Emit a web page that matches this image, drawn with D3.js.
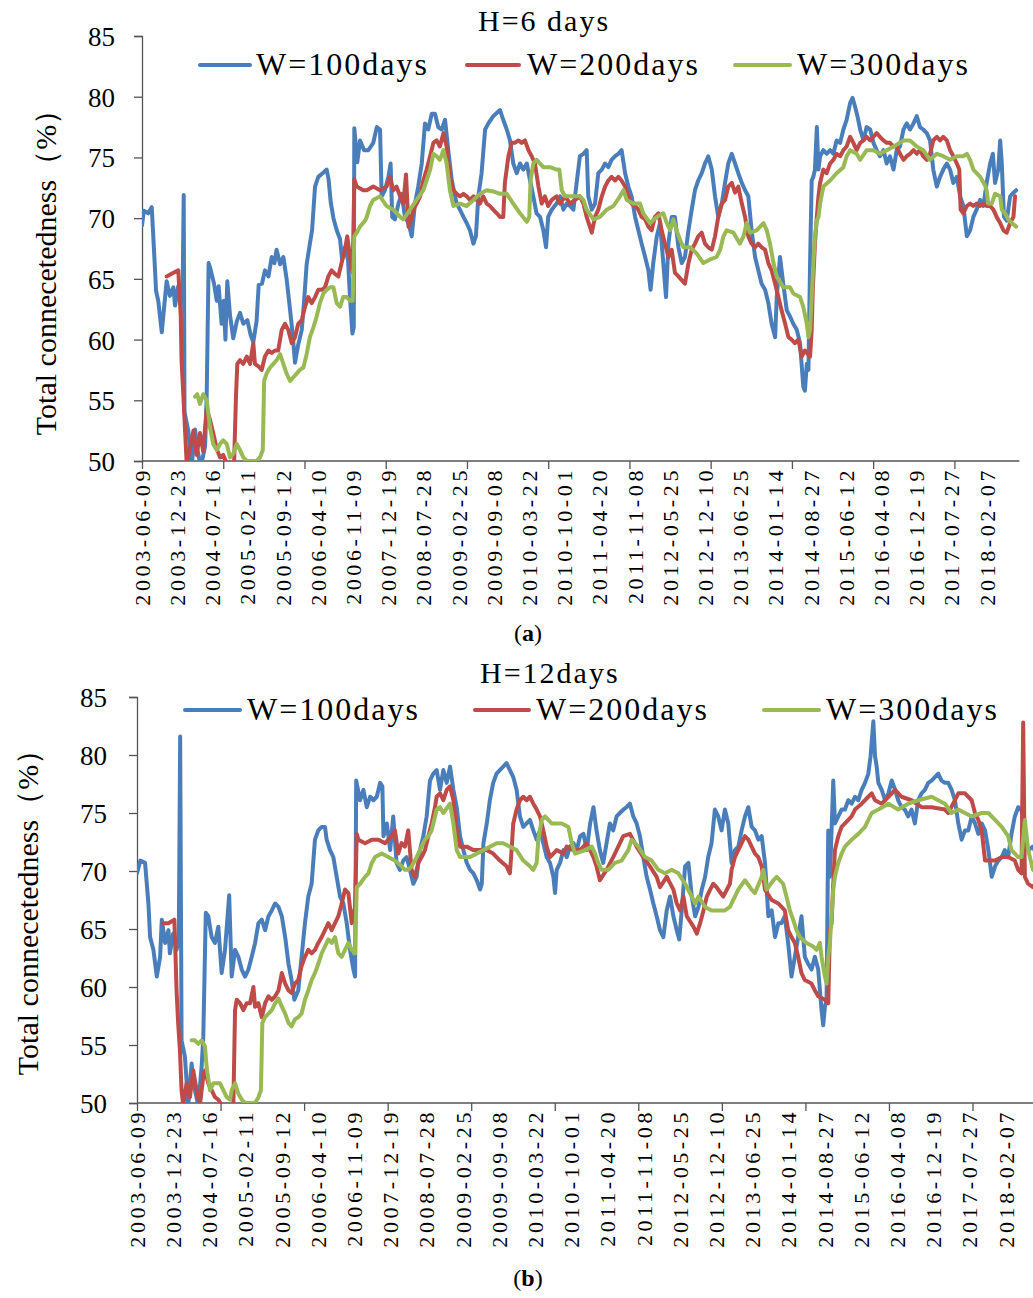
<!DOCTYPE html>
<html>
<head>
<meta charset="utf-8">
<script src="https://cdnjs.cloudflare.com/ajax/libs/d3/7.8.5/d3.min.js"></script>
<style>
  body { margin: 0; background: #fff; }
  svg text { font-family: "Liberation Serif", "Times New Roman", serif; fill: #000; }
</style>
</head>
<body>
<script>
// x values are trading-day indices along the category axis
var dateLabels = ["2003-06-09", "2003-12-23", "2004-07-16", "2005-02-11", "2005-09-12",
  "2006-04-10", "2006-11-09", "2007-12-19", "2008-07-28", "2009-02-25", "2009-09-08",
  "2010-03-22", "2010-10-01", "2011-04-20", "2011-11-08", "2012-05-25", "2012-12-10",
  "2013-06-25", "2014-01-14", "2014-08-27", "2015-06-12", "2016-04-08", "2016-12-19",
  "2017-07-27", "2018-02-07"];
var seriesNames = ["W=100days", "W=200days", "W=300days"];
var yTicks = [50, 55, 60, 65, 70, 75, 80, 85];

// panel (a): H=6 days
var w100H6 = [[0,69.4],[7,70.6],[23,70.4],[36,70.9],[44,67.5],[52,64],[60,63.2],[73,60.6],[81,62.5],[91,64.8],[103,63.6],[116,64.3],[122,62.8],[134,64.4],[143,63.2],[150,64],[154,71.9],[157,54],[171,52.5],[183,49.5],[196,52.6],[204,51],[217,49.5],[233,51.2],[239,55.5],[246,66.3],[253,65.8],[266,64.6],[276,63.2],[283,64.4],[294,61.3],[302,63.2],[308,60],[315,64.8],[325,62],[337,60.1],[350,61.5],[362,62.2],[374,61.3],[389,61.6],[401,60.4],[411,59.8],[423,61.5],[431,64.5],[443,64.6],[454,65.7],[467,65.2],[479,66.8],[489,66.3],[497,67.4],[510,66.2],[522,66.8],[534,65],[547,62.4],[556,60.5],[565,58.1],[577,59.6],[590,60.8],[598,63],[608,66.2],[620,67.9],[628,69],[639,72.6],[651,73.4],[667,73.7],[682,74],[689,73.2],[697,71.3],[707,70],[719,69],[731,68.3],[739,66.6],[750,67.6],[761,66.5],[768,63.5],[777,60.5],[782,61],[784,77.4],[795,74.6],[805,76.4],[820,75.6],[836,75.6],[854,76.2],[867,77.5],[879,77.3],[885,71.8],[897,72.3],[910,73.4],[918,74.5],[924,70.1],[934,69.9],[947,71.2],[959,72],[971,70.1],[984,69.6],[996,68.5],[1008,71.2],[1020,72.6],[1033,74.5],[1045,77.8],[1057,77.3],[1070,78.6],[1082,78.6],[1094,77.5],[1107,77.3],[1119,78.1],[1131,75.6],[1144,73.1],[1162,71.2],[1174,70.7],[1187,70.1],[1199,69.6],[1211,69],[1224,67.9],[1233,68.5],[1242,71.8],[1254,73.7],[1267,77.3],[1279,77.8],[1297,78.4],[1322,78.9],[1334,78.1],[1347,77.3],[1359,76.4],[1371,74.5],[1384,73.7],[1396,74.5],[1408,74],[1421,74.5],[1433,73.1],[1445,71.8],[1457,70.4],[1470,70.1],[1482,69],[1492,67.6],[1500,70.1],[1513,70.7],[1531,71.2],[1544,71.8],[1556,70.7],[1568,71.2],[1581,71],[1593,70.7],[1605,72.9],[1617,75.1],[1630,75.3],[1642,75.6],[1648,71.8],[1661,70.7],[1673,71.2],[1685,73.7],[1698,74],[1710,74.5],[1722,74.2],[1734,74.8],[1747,75.1],[1759,75.3],[1771,75.6],[1784,73.7],[1796,72.6],[1808,71.8],[1821,70.1],[1833,69],[1845,67.9],[1858,66.8],[1870,65.7],[1878,64.1],[1888,66.3],[1901,68.5],[1913,69.6],[1925,66.3],[1935,63.5],[1944,67.9],[1956,70.1],[1968,70.1],[1981,67.6],[1993,66.3],[2005,66.8],[2018,69],[2030,70.7],[2042,72.3],[2054,73.1],[2067,73.7],[2079,74.5],[2091,75.1],[2104,74],[2116,71.8],[2128,70.1],[2141,71.2],[2153,72.9],[2165,74.5],[2178,75.3],[2190,74.5],[2202,73.7],[2215,72.9],[2227,72.3],[2239,71.8],[2251,69],[2264,66.8],[2276,65.7],[2288,64.6],[2301,64.1],[2313,63],[2325,61.3],[2338,60.2],[2344,63.5],[2356,66.8],[2368,64.6],[2381,62.4],[2393,61.9],[2405,61.3],[2418,60.8],[2430,59.7],[2442,56.1],[2448,55.8],[2455,58],[2461,57.5],[2467,66.3],[2473,73.1],[2479,73.4],[2485,74],[2492,77.5],[2498,74],[2504,75.1],[2516,75.6],[2528,75.3],[2541,75.6],[2553,75.3],[2565,76.4],[2578,76.2],[2590,77.3],[2602,78.1],[2615,79.5],[2624,79.9],[2633,79.2],[2642,78.4],[2652,77.3],[2664,76.4],[2676,77.5],[2689,77.3],[2701,76.2],[2713,75.6],[2725,75.1],[2738,75.6],[2750,74.5],[2762,75.1],[2775,74],[2787,75.6],[2799,75.9],[2812,77.3],[2824,77.8],[2836,77.3],[2849,77.8],[2861,78.4],[2873,77.5],[2885,77.3],[2898,77],[2910,76.4],[2922,74],[2935,72.6],[2947,73.4],[2959,74],[2972,74.5],[2984,74],[2996,72.9],[3009,73.4],[3021,71.8],[3033,71],[3046,68.5],[3058,69],[3070,70.1],[3082,70.7],[3095,71.5],[3107,71],[3119,72.9],[3132,74.5],[3142,75.3],[3150,72.9],[3162,74],[3169,76.4],[3175,74.5],[3183,70.1],[3193,69.8],[3206,71.8],[3218,72.1],[3228,72.3]];
var w200H6 = [[91,65.2],[116,65.5],[134,65.7],[138,64],[143,62],[146,58.3],[153,55.3],[159,52.5],[165,49.8],[177,51],[190,52.5],[202,50.5],[214,52.3],[226,50.8],[239,54.3],[251,53.4],[263,52.3],[276,51],[288,50.3],[300,50.5],[313,49.8],[340,49.8],[347,55.3],[352,58],[362,58.3],[374,58],[387,58.6],[399,58],[411,59.7],[417,58],[430,57.8],[442,57.5],[454,58.6],[467,59.1],[479,58.9],[491,59.1],[503,59.1],[516,60.8],[528,61.3],[540,60.8],[553,59.7],[565,60.2],[577,61.3],[590,61.6],[602,62.7],[614,63.5],[627,63],[639,63.5],[651,64.1],[664,64.1],[676,64.3],[688,65.2],[700,65.7],[713,65.4],[725,65.2],[737,66.3],[750,67.5],[758,68.5],[770,66.5],[778,65.5],[784,73.2],[793,72.6],[817,72.3],[830,72.3],[854,72.6],[879,72.3],[903,72.6],[916,73.4],[928,72.3],[940,72.6],[953,71.8],[965,71.2],[975,73.6],[984,69.3],[990,69.6],[1002,70.7],[1014,71.2],[1027,71.8],[1039,73.1],[1051,74],[1064,75.1],[1076,76.2],[1088,76.4],[1100,75.9],[1113,77],[1125,75.9],[1137,73.4],[1150,72.3],[1162,72],[1174,71.8],[1187,72],[1199,71.8],[1211,71.5],[1224,71.8],[1236,71.5],[1248,71.2],[1260,71.8],[1273,71.2],[1285,71],[1297,70.7],[1310,70.4],[1322,70.1],[1334,70.1],[1340,72.9],[1353,75.1],[1365,76.2],[1377,76.2],[1390,76.4],[1402,76.2],[1414,76.4],[1427,75.6],[1439,75.1],[1451,74.5],[1464,72.6],[1476,71.2],[1488,71.8],[1500,71],[1513,71.5],[1531,71.8],[1544,71.2],[1562,71.8],[1581,71.2],[1599,71.5],[1617,71.8],[1630,71.2],[1642,70.1],[1661,68.8],[1673,70.1],[1685,70.7],[1698,71.8],[1710,72.6],[1722,73.1],[1734,73.4],[1747,73.1],[1759,73.4],[1771,73.1],[1784,72.6],[1796,71.8],[1808,71.2],[1821,71],[1833,70.7],[1845,70.1],[1858,69.9],[1870,69.3],[1882,69],[1894,70.1],[1907,70.4],[1919,69],[1931,67.9],[1944,66.8],[1956,67.4],[1968,65.5],[1981,65.2],[1993,64.9],[2005,64.6],[2018,66.3],[2030,67.4],[2042,67.9],[2054,68.5],[2067,68.8],[2079,67.9],[2091,67.6],[2104,67.4],[2116,68.5],[2128,70.1],[2141,71.2],[2153,71.5],[2165,72.6],[2178,72.9],[2190,72.1],[2202,72.6],[2215,71.2],[2227,70.1],[2239,68.5],[2251,67.9],[2264,67.6],[2276,67.9],[2288,67.6],[2301,67.4],[2313,66.3],[2325,65.7],[2338,64.6],[2350,63.5],[2362,62.4],[2375,61.3],[2387,60.2],[2399,60],[2411,59.7],[2424,60],[2436,58.6],[2448,59.1],[2455,58.9],[2467,58.6],[2473,60.8],[2477,64.1],[2485,67.9],[2492,70.1],[2498,71.8],[2504,72.9],[2516,74],[2528,73.7],[2541,74.5],[2553,74.8],[2565,75.3],[2578,75.1],[2590,75.6],[2602,75.9],[2615,76.7],[2627,76.2],[2639,75.6],[2652,76.2],[2664,76.4],[2676,76.7],[2689,76.4],[2701,76.7],[2713,77],[2725,76.7],[2738,76.4],[2750,76.2],[2762,76.2],[2775,75.9],[2787,75.9],[2799,75.3],[2812,74.8],[2824,75.1],[2836,75.3],[2849,75.6],[2861,75.3],[2873,75.6],[2885,75.1],[2898,74.8],[2910,75.3],[2922,76.4],[2935,76.7],[2947,76.4],[2959,76.7],[2972,76.4],[2984,75.6],[2996,75.1],[3009,74.5],[3018,74],[3023,70.7],[3033,70.4],[3046,71],[3058,71.2],[3070,71],[3082,71.2],[3095,71],[3107,71.2],[3119,71],[3132,71],[3144,70.7],[3156,70.1],[3169,69.6],[3181,69],[3193,68.8],[3206,69.6],[3218,70.1],[3224,71.8]];
var w300H6 = [[196,55.3],[204,55.5],[214,54.7],[226,55.5],[239,55],[251,52.8],[263,51.4],[276,50.9],[288,51.4],[300,51.7],[313,51.4],[325,50.3],[337,50.6],[350,51.4],[362,50.9],[374,50.3],[387,50],[423,50],[436,50.3],[446,50.9],[451,56.6],[460,57.2],[473,57.7],[485,58],[497,58.3],[510,58.8],[522,58],[534,57.2],[547,56.6],[559,56.9],[571,57.2],[583,57.5],[596,57.7],[608,58.8],[620,60.2],[633,61],[645,61.9],[657,63],[670,63.8],[682,64.1],[694,64.3],[707,64.3],[719,63],[731,62.7],[743,63.5],[756,63.5],[768,63.2],[778,63.2],[784,68.5],[793,68.8],[805,69.3],[824,69.8],[830,70.1],[842,71],[854,71.5],[879,71.8],[903,71],[928,70.7],[953,70.1],[965,69.9],[990,70.7],[1014,71.5],[1039,72.3],[1051,73.1],[1064,74],[1076,75.3],[1088,75.1],[1100,74.8],[1113,75.6],[1125,74.5],[1137,72.3],[1150,71],[1174,71.2],[1199,71],[1224,71.5],[1248,72],[1273,72.3],[1297,72.2],[1322,72],[1347,72],[1371,71.2],[1396,70.4],[1421,69.7],[1430,70.1],[1435,73.1],[1445,74.5],[1457,74.8],[1482,74.2],[1507,74.2],[1531,74],[1541,74],[1550,72.3],[1562,71.8],[1587,71.8],[1617,71.8],[1630,71.5],[1642,70.7],[1667,69.9],[1691,70.1],[1716,70.7],[1741,71],[1765,71.8],[1778,72.3],[1790,71.5],[1814,71.2],[1839,71.2],[1851,70.4],[1876,69.6],[1901,70.1],[1925,70.4],[1938,69.6],[1950,69],[1962,69.9],[1974,69],[1987,68.2],[1999,67.6],[2024,67.6],[2048,67.1],[2073,66.3],[2098,66.6],[2122,66.8],[2135,67.4],[2147,68.5],[2159,69],[2184,68.8],[2208,67.9],[2221,68.5],[2233,69.6],[2245,68.8],[2270,69],[2295,69.6],[2307,69],[2319,67.9],[2332,66.3],[2344,65.2],[2368,64.3],[2393,64.3],[2405,63.8],[2430,63.5],[2442,62.7],[2455,61.3],[2461,60.2],[2467,60.8],[2473,63.5],[2479,66.3],[2485,68.5],[2492,69.8],[2498,70.1],[2504,71.2],[2516,72.6],[2541,73.1],[2565,73.7],[2590,74.2],[2602,75.1],[2615,75.6],[2639,75.3],[2652,74.8],[2676,75.6],[2701,75.6],[2725,75.3],[2750,75.6],[2775,75.9],[2799,76.2],[2812,76.4],[2836,76.4],[2861,75.9],[2885,75.6],[2910,74.8],[2935,75.3],[2959,75.1],[2984,74.8],[3009,75.1],[3033,75.1],[3046,75.3],[3058,74.8],[3070,74],[3095,73.4],[3113,72.7],[3119,72.3],[3125,71.2],[3138,71.2],[3150,72],[3169,71.8],[3175,70.7],[3187,70.4],[3199,69.9],[3212,69.6],[3228,69.3]];

// panel (b): H=12 days
var w100H12 = [[0,69.8],[12,70.9],[29,70.7],[41,67.2],[47,64.3],[59,63.2],[71,60.9],[83,62.6],[89,65.8],[101,63.8],[113,64.9],[118,62.9],[130,64.6],[142,63.2],[150,64],[155,81.6],[160,55.4],[172,54],[184,49.8],[196,53.4],[208,51.1],[220,49.8],[232,53.1],[238,55.7],[247,66.4],[256,66.1],[268,64.3],[280,63.8],[292,65.2],[304,61.2],[316,63.2],[331,67.9],[340,60.9],[352,63.2],[364,62.6],[376,61.5],[388,60.9],[400,61.5],[412,62.6],[424,63.8],[436,65.5],[448,65.8],[460,64.9],[472,66.1],[484,66.6],[496,67.2],[508,66.9],[520,66.1],[532,64.3],[544,62],[555,60.6],[565,58.9],[579,59.7],[591,62.6],[603,65.5],[615,67.8],[627,68.9],[639,72.7],[651,73.5],[663,73.8],[675,73.8],[681,72.7],[693,71.8],[705,71.2],[717,69.5],[729,67.8],[741,67.2],[753,65.5],[765,63.2],[777,61.5],[783,60.9],[787,77.8],[801,76.1],[813,77],[825,75.5],[837,76.4],[849,76.1],[861,76.4],[873,77.6],[881,77.3],[885,73],[897,74.1],[909,71.8],[920,74.7],[932,70.7],[944,70.1],[956,70.9],[968,71.2],[980,70.1],[992,68.9],[1004,69.5],[1016,71.8],[1028,73],[1040,74.7],[1052,77.8],[1064,78.4],[1076,78.7],[1088,77],[1100,78.7],[1112,77.6],[1124,79],[1136,77],[1148,75.5],[1160,73],[1172,71.8],[1184,70.7],[1196,70.1],[1208,69.8],[1220,69.2],[1232,68.4],[1238,68.9],[1244,72.4],[1256,74.1],[1267,76.1],[1279,77.6],[1291,78.4],[1303,78.7],[1327,79.3],[1339,78.7],[1351,78.1],[1363,77],[1375,74.7],[1387,73.8],[1399,74.1],[1411,74.4],[1423,73.5],[1435,72.7],[1447,73.5],[1459,72.4],[1471,71.2],[1483,70.7],[1495,69.5],[1501,68.1],[1507,70.1],[1519,70.7],[1531,71.8],[1543,71.2],[1555,72.1],[1567,72.4],[1579,71.8],[1591,73],[1603,73.2],[1615,71.8],[1627,74.1],[1639,75.5],[1650,73.5],[1662,71.8],[1674,70.7],[1686,72.4],[1698,74.1],[1710,73.5],[1722,74.7],[1734,75],[1746,75.3],[1758,75.5],[1770,75.8],[1782,74.7],[1794,74.1],[1806,73],[1818,71.2],[1830,69.5],[1842,68.4],[1854,67.2],[1866,66.1],[1878,64.9],[1890,64.3],[1902,66.6],[1914,67.8],[1926,66.1],[1938,64.9],[1947,64.1],[1956,66.6],[1968,70.4],[1980,70.7],[1992,67.8],[2004,66.1],[2016,66.9],[2028,68.4],[2040,69.5],[2051,71.2],[2063,72.4],[2075,75.3],[2087,74.7],[2099,73.5],[2111,75.3],[2123,74.1],[2135,70.7],[2147,71.8],[2159,72.1],[2171,73.5],[2183,74.7],[2195,75.5],[2207,73.8],[2219,73.5],[2231,72.7],[2243,73],[2255,70.7],[2267,66.1],[2279,66.6],[2291,64.3],[2303,65.5],[2314,65.5],[2326,66.1],[2338,63.8],[2350,60.9],[2362,62.6],[2374,64.3],[2386,66.1],[2398,62.6],[2410,62],[2422,61.5],[2434,62.6],[2446,61.5],[2458,58],[2464,56.7],[2470,58.3],[2476,58.9],[2482,73.5],[2488,69.5],[2494,73.5],[2500,77.8],[2506,74.1],[2518,74.7],[2530,75.3],[2542,75.3],[2554,76.1],[2566,75.8],[2578,76.4],[2590,76.1],[2602,77],[2614,77.6],[2626,78.4],[2634,79.9],[2644,82.9],[2650,79.9],[2656,79],[2662,77.6],[2674,77],[2686,76.1],[2698,76.7],[2710,77.8],[2722,77],[2733,76.1],[2745,75.5],[2757,75.3],[2769,74.7],[2781,75.3],[2793,74.1],[2805,76.1],[2817,76.7],[2829,77],[2841,77.6],[2853,77.8],[2865,78.1],[2877,78.4],[2889,77.8],[2901,77.6],[2913,77.6],[2925,77],[2937,76.1],[2949,74.1],[2961,72.7],[2973,73.5],[2985,73.5],[2997,74.7],[3009,74.1],[3021,73.2],[3033,74.1],[3045,73.5],[3057,71.8],[3069,69.5],[3081,70.4],[3093,70.9],[3105,71.2],[3116,71.8],[3128,71.2],[3140,73.2],[3152,74.7],[3164,75.5],[3176,75.3],[3188,72.7],[3200,71.8],[3217,72.1],[3228,71.5]];
var w200H12 = [[94,65.5],[113,65.5],[134,65.8],[137,63.8],[142,59.7],[148,56.8],[154,54.6],[160,51.1],[166,49.8],[178,51.7],[190,50.5],[202,52.8],[214,51.1],[226,49.8],[238,52.3],[244,52.8],[256,51.7],[268,51.1],[280,50.5],[292,50.3],[304,49.8],[346,49.8],[352,58],[358,58.9],[370,58.6],[382,58],[394,58.6],[406,58.6],[418,60],[424,58.3],[436,58.6],[448,57.4],[460,58.6],[472,59.2],[484,58.9],[496,59.2],[508,59.7],[520,61.2],[532,60.3],[544,59.7],[555,59.5],[567,60.3],[579,60.6],[591,61.8],[603,62.6],[615,63.2],[627,62.9],[639,63.2],[651,63.8],[663,64.3],[675,64.9],[687,65.5],[699,64.9],[711,65.5],[723,66.1],[735,67.2],[747,68.4],[759,68.1],[771,65.5],[783,66.9],[789,73.2],[795,72.7],[819,72.4],[843,72.7],[867,72.7],[891,72.4],[914,73],[926,73.5],[938,71.5],[950,72.4],[962,72.1],[974,73.5],[986,70.1],[998,69.5],[1010,70.7],[1022,71.2],[1034,71.8],[1046,73],[1058,74.1],[1070,75.5],[1076,76.4],[1088,76.7],[1100,76.1],[1112,77],[1124,77.3],[1136,76.1],[1148,73.5],[1160,72.1],[1184,72.1],[1208,71.8],[1232,71.8],[1256,71.8],[1279,71.5],[1303,70.9],[1327,70.4],[1339,69.8],[1345,71.8],[1351,74.1],[1363,75.3],[1375,76.1],[1387,76.4],[1399,76.1],[1411,76.4],[1423,75.8],[1435,75.3],[1447,74.7],[1459,73.5],[1471,72.1],[1483,71.2],[1507,71.8],[1531,71.5],[1543,72.1],[1567,71.8],[1591,71.8],[1615,72.4],[1639,71.2],[1650,70.4],[1662,69.2],[1686,70.1],[1710,71.2],[1734,72.4],[1746,73],[1770,73.2],[1794,72.1],[1818,71.2],[1842,70.4],[1866,69.5],[1878,68.6],[1902,69.5],[1926,68.4],[1938,67.2],[1950,66.6],[1962,67.8],[1974,66.1],[1998,65.2],[2010,64.6],[2022,65.5],[2034,66.6],[2046,67.8],[2058,68.4],[2069,68.9],[2081,68.6],[2105,67.8],[2129,68.9],[2135,70.1],[2147,71.2],[2159,71.8],[2171,72.4],[2183,73],[2195,72.7],[2207,72.1],[2219,71.5],[2231,71.2],[2243,70.4],[2255,68.4],[2279,67.5],[2303,67.2],[2326,66.6],[2338,64.9],[2350,64.3],[2362,63.8],[2374,62.6],[2386,61.2],[2398,60.6],[2422,60.3],[2434,59.7],[2446,59.2],[2470,58.9],[2482,58.6],[2488,64.9],[2494,65.5],[2500,68.9],[2506,71.8],[2518,73],[2530,73.8],[2542,74.1],[2566,74.7],[2578,75.3],[2602,75.8],[2626,76.4],[2638,76.7],[2650,76.1],[2674,75.8],[2698,76.4],[2722,77],[2745,76.4],[2781,76.1],[2817,75.5],[2853,75.5],[2901,75.3],[2913,75],[2937,76.1],[2949,76.7],[2973,76.7],[2997,76.1],[3009,75],[3021,74.4],[3033,73.5],[3045,70.9],[3081,70.9],[3105,71.2],[3128,71.2],[3152,70.9],[3164,70.1],[3176,69.8],[3182,82.8],[3188,69.5],[3200,68.9],[3217,68.6],[3228,69]];
var w300H12 = [[196,55.4],[208,55.4],[220,55.1],[232,55.4],[244,54.9],[250,53.1],[262,51.1],[274,51.7],[298,51.7],[310,51.1],[322,50.5],[334,50.3],[340,51.1],[352,51.7],[364,50.8],[376,50.3],[388,50],[424,50],[436,50.5],[445,51.1],[450,56.9],[460,57.4],[472,57.7],[484,58],[496,58.6],[508,59],[520,58.3],[532,57.7],[544,56.9],[555,56.6],[567,57.2],[579,57.4],[591,57.7],[603,58.9],[615,59.7],[627,60.6],[639,61.2],[651,62],[663,62.9],[675,63.5],[687,64.1],[699,63.8],[711,64.3],[723,62.9],[735,62.6],[747,63.2],[759,63.8],[771,63.2],[783,62.9],[789,68.6],[801,68.9],[819,69.5],[831,69.8],[843,70.7],[855,71.2],[879,71.5],[902,71.2],[926,70.9],[950,70.4],[962,70.1],[974,70.1],[986,70.4],[998,70.9],[1010,71.5],[1022,72.1],[1034,72.7],[1046,73],[1058,73.5],[1064,74.1],[1076,75.3],[1088,75.5],[1100,75],[1124,75.8],[1136,74.1],[1148,71.8],[1160,71.2],[1196,71.2],[1244,71.8],[1291,72.4],[1315,72.4],[1363,71.8],[1387,70.9],[1411,70.4],[1423,70.1],[1435,70.7],[1441,72.7],[1453,74.4],[1465,74.7],[1489,74.1],[1525,74.1],[1549,73.8],[1561,72.4],[1573,71.5],[1609,71.8],[1633,72.1],[1645,71.5],[1656,70.7],[1668,70.1],[1692,70.1],[1716,70.7],[1740,70.9],[1764,71.8],[1776,72.7],[1800,72.1],[1824,71.2],[1848,70.9],[1872,70.1],[1896,69.8],[1920,70.1],[1944,69.8],[1968,68.9],[1992,67.8],[2004,67.2],[2016,67.8],[2040,66.9],[2063,66.6],[2087,66.6],[2111,66.6],[2129,66.9],[2135,67.2],[2159,68.4],[2183,69.2],[2207,68.4],[2219,68.1],[2243,69.5],[2249,70.1],[2261,68.4],[2285,69.2],[2297,69.5],[2320,68.9],[2332,67.8],[2344,66.6],[2356,65.8],[2368,64.9],[2380,64.3],[2404,63.8],[2428,63.5],[2440,63.2],[2452,63.8],[2458,62.6],[2470,60.9],[2476,60.3],[2482,62.6],[2488,63.8],[2494,66.1],[2500,68.4],[2506,69.5],[2518,70.7],[2530,71.5],[2542,72.1],[2566,72.7],[2590,73.2],[2614,73.8],[2638,75],[2662,75.3],[2698,75.8],[2733,75.3],[2769,75.8],[2805,76.1],[2853,76.4],[2901,75.8],[2925,75],[2949,75.3],[2997,74.7],[3033,75],[3057,75],[3081,74.4],[3105,73.8],[3128,73],[3140,71.8],[3164,71.2],[3176,71.2],[3188,74.4],[3200,71.8],[3217,70.1],[3228,70]];

var colors = ["#4a7ebb", "#be4b48", "#98b954"];
var nDays = 3240, tickEvery = 300, labelEvery = 130;

var svg = d3.select("body").append("svg")
  .attr("width", 1033)
  .attr("height", 1298)
  .style("display", "block");

svg.append("rect").attr("width", 1033).attr("height", 1298).attr("fill", "#fff");

function drawPanel(p, id) {
  var x = d3.scaleLinear().domain([0, nDays]).range([p.left, p.left + nDays * p.pxPerDay]);
  var y = d3.scaleLinear().domain([50, 85]).range([p.bottom, p.top]);

  var g = svg.append("g");

  g.append("clipPath").attr("id", "clip" + id)
    .append("rect")
    .attr("x", p.left).attr("y", p.top - 40)
    .attr("width", 1100).attr("height", p.bottom - p.top + 40);

  // y axis
  var yAxis = d3.axisLeft(y).tickValues(yTicks).tickSize(8).tickPadding(p.tickPad);
  var ya = g.append("g").attr("transform", "translate(" + p.left + ",0)").call(yAxis);
  ya.attr("font-family", null);
  ya.select(".domain").attr("stroke", "#555").attr("stroke-width", 1.3);
  ya.selectAll(".tick line").attr("stroke", "#555").attr("stroke-width", 1.3);
  ya.selectAll(".tick text")
    .style("font-size", "27px")
    .attr("dy", "0.35em");

  // x axis
  var xAxis = d3.axisBottom(x).tickValues(d3.range(0, nDays, tickEvery)).tickSize(8).tickFormat("");
  var xa = g.append("g").attr("transform", "translate(0," + p.bottom + ")").call(xAxis);
  xa.select(".domain").attr("stroke", "#555").attr("stroke-width", 1.3)
    .attr("d", "M" + p.left + ",0H" + x(nDays));
  xa.selectAll(".tick line").attr("stroke", "#555").attr("stroke-width", 1.3);

  g.selectAll(".xlab")
    .data(dateLabels)
    .enter().append("text")
    .attr("class", "xlab")
    .attr("transform", function(d, i) {
      return "translate(" + x(i * labelEvery) + "," + (p.bottom + 6) + ") rotate(-90)";
    })
    .attr("dy", "0.35em")
    .attr("text-anchor", "end")
    .style("font-size", "22px")
    .style("letter-spacing", "3.6px")
    .text(function(d) { return d; });

  // y axis title
  g.append("text")
    .attr("transform", "translate(" + p.yLabelX + "," + p.yLabelY + ") rotate(-90)")
    .attr("dy", "0.35em")
    .attr("text-anchor", "middle")
    .style("font-size", "30px")
    .text("Total connecetedness（%）");

  // lines
  var line = d3.line()
    .x(function(d) { return x(d[0]); })
    .y(function(d) { return y(d[1]); });

  var plot = g.append("g").attr("clip-path", "url(#clip" + id + ")");
  p.series.forEach(function(s, i) {
    plot.append("path")
      .datum(s)
      .attr("fill", "none")
      .attr("stroke", colors[i])
      .attr("stroke-width", 4)
      .attr("stroke-linejoin", "round")
      .attr("stroke-linecap", "round")
      .attr("d", line);
  });

  // title
  g.append("text")
    .attr("x", p.titleX).attr("y", p.titleY)
    .style("font-size", "30px")
    .style("letter-spacing", "2px")
    .text(p.title);

  // legend
  var leg = g.selectAll(".leg").data(seriesNames).enter().append("g");
  leg.append("line")
    .attr("x1", function(d, i) { return p.legend[i][0]; })
    .attr("x2", function(d, i) { return p.legend[i][1]; })
    .attr("y1", p.legendY).attr("y2", p.legendY)
    .attr("stroke", function(d, i) { return colors[i]; })
    .attr("stroke-width", 4)
    .attr("stroke-linecap", "round");
  leg.append("text")
    .attr("x", function(d, i) { return p.legend[i][2]; })
    .attr("y", p.legendY + 10)
    .style("font-size", "32px")
    .style("letter-spacing", "2px")
    .text(function(d) { return d; });

  // caption
  var cap = g.append("text")
    .attr("x", 528).attr("y", p.captionY)
    .attr("text-anchor", "middle")
    .style("font-size", "24px");
  cap.append("tspan").text("(");
  cap.append("tspan").style("font-weight", "bold").text(p.caption);
  cap.append("tspan").text(")");
}

drawPanel({
  left: 142, pxPerDay: 0.2708, top: 36, bottom: 461, tickPad: 19,
  yLabelX: 45, yLabelY: 265,
  title: "H=6 days", titleX: 478, titleY: 31,
  legendY: 65, legend: [[200, 250, 256], [467, 519, 527], [735, 790, 797]],
  caption: "a", captionY: 641,
  series: [w100H6, w200H6, w300H6]
}, "a");

drawPanel({
  left: 137, pxPerDay: 0.2785, top: 697, bottom: 1103, tickPad: 22,
  yLabelX: 27, yLabelY: 905,
  title: "H=12days", titleX: 480, titleY: 683,
  legendY: 710, legend: [[185, 240, 247], [475, 529, 536], [764, 819, 826]],
  caption: "b", captionY: 1286,
  series: [w100H12, w200H12, w300H12]
}, "b");
</script>
</body>
</html>
